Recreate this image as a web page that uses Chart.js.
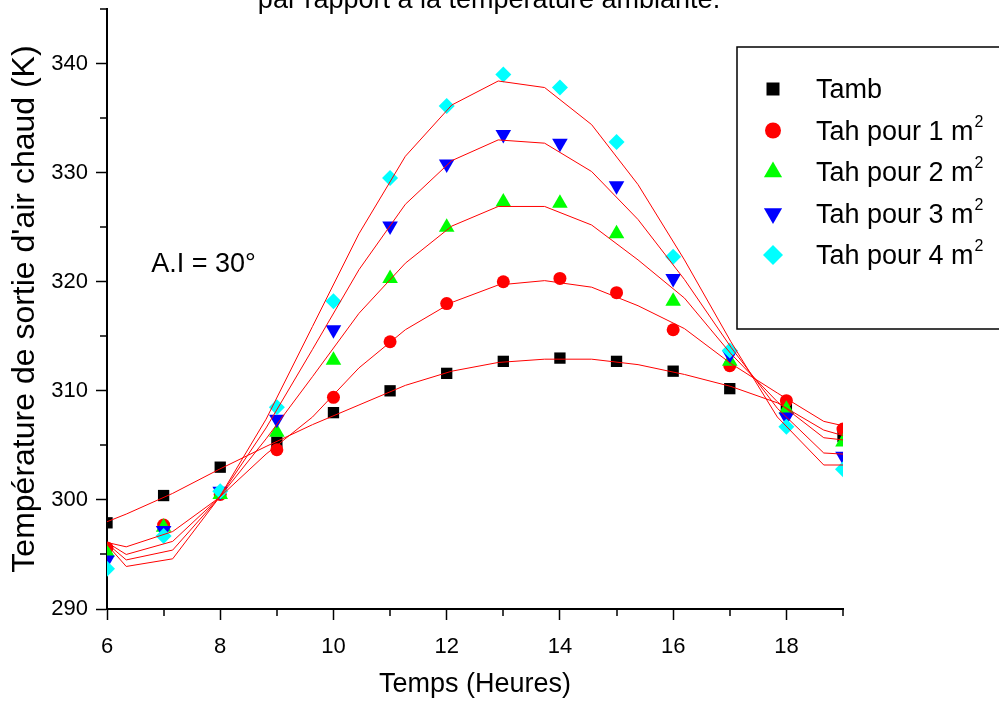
<!DOCTYPE html>
<html>
<head>
<meta charset="utf-8">
<script src="https://cdn.jsdelivr.net/npm/chart.js@4/dist/chart.umd.min.js"></script>
<style>
  html, body { margin: 0; padding: 0; background: #fff; }
  canvas { display: block; }
</style>
</head>
<body>
<canvas id="chart" width="999" height="704"></canvas>
<script>
// Measured outlet temperatures (K), one value per hour
const hours = [6, 7, 8, 9, 10, 11, 12, 13, 14, 15, 16, 17, 18, 19];
const tamb = [297.9, 300.4, 303.0, 305.3, 308.0, 310.0, 311.6, 312.7, 313.0, 312.7, 311.8, 310.2, 308.3, 305.8];
const tah1 = [295.6, 297.7, 300.5, 304.6, 309.4, 314.5, 318.0, 320.0, 320.3, 319.0, 315.6, 312.3, 309.1, 306.5];
const tah2 = [295.2, 297.5, 300.5, 306.2, 312.8, 320.3, 325.0, 327.3, 327.2, 324.4, 318.2, 312.7, 308.3, 305.3];
const tah3 = [294.5, 297.2, 300.8, 307.4, 315.6, 325.1, 330.8, 333.5, 332.7, 328.8, 320.3, 313.3, 307.6, 304.0];
const tah4 = [293.7, 296.7, 300.8, 308.5, 318.2, 329.5, 336.1, 339.0, 337.8, 332.8, 322.3, 313.7, 306.7, 302.8];

// Fitted curves (red), sampled at their own abscissas
const fitHours = [6, 6.34, 7.16, 7.98, 8.81, 9.63, 10.45, 11.27, 12.09, 12.91, 13.73, 14.56, 15.38, 16.2, 17.02, 17.84, 18.66, 19];
const fitTamb = [298.0, 298.7, 300.6, 302.8, 304.9, 306.9, 308.7, 310.5, 311.8, 312.6, 312.9, 312.9, 312.4, 311.5, 310.4, 308.9, 306.4, 305.9];
const fit1 = [296.1, 295.7, 297.1, 300.2, 304.2, 307.6, 312.1, 315.6, 318.1, 319.7, 320.1, 319.5, 317.8, 315.7, 312.5, 309.8, 307.2, 306.8];
const fit2 = [296.1, 295.0, 296.2, 300.2, 305.6, 311.3, 317.1, 321.7, 325.1, 326.9, 326.9, 325.2, 322.0, 318.5, 313.4, 309.0, 305.7, 305.5];
const fit3 = [296.0, 294.5, 295.4, 300.2, 306.6, 313.8, 321.1, 327.1, 331.1, 333.0, 332.7, 330.1, 325.7, 320.2, 314.0, 308.4, 304.3, 304.2];
const fit4 = [295.9, 293.9, 294.6, 300.2, 307.4, 315.9, 324.4, 331.5, 336.2, 338.4, 337.8, 334.4, 328.9, 322.0, 314.5, 307.6, 303.2, 303.2];

// Labels
const seriesNames = ['Tamb', 'Tah pour 1 m²', 'Tah pour 2 m²', 'Tah pour 3 m²', 'Tah pour 4 m²'];
const xTickLabels = [6, 8, 10, 12, 14, 16, 18];
const yTickLabels = [290, 300, 310, 320, 330, 340];
const titleText = 'par rapport à la température ambiante.';
const noteText = 'A.I = 30°';
const xTitle = 'Temps (Heures)';
const yTitle = "Température de sortie d'air chaud (K)";

const FONT = "'Liberation Sans', Arial, Helvetica, sans-serif";
const seriesColors = ['#000000', '#ff0000', '#00ff00', '#0000ff', '#00ffff'];
const seriesStyles = [
  { pointStyle: 'rect', radius: 8, rotation: 0 },
  { pointStyle: 'circle', radius: 6.5, rotation: 0 },
  { pointStyle: 'triangle', radius: 9, rotation: 0 },
  { pointStyle: 'triangle', radius: 9, rotation: 180 },
  { pointStyle: 'rectRot', radius: 8, rotation: 0 }
];
const seriesValues = [tamb, tah1, tah2, tah3, tah4];
const fitValues = [fitTamb, fit1, fit2, fit3, fit4];

const toXY = (xs, ys) => xs.map((x, i) => ({ x: x, y: ys[i] }));

const datasets = [];
fitValues.forEach((ys, i) => {
  datasets.push({
    label: 'fit ' + seriesNames[i],
    data: toXY(fitHours, ys),
    showLine: true,
    borderColor: '#ff0000',
    borderWidth: 1,
    pointRadius: 0,
    tension: 0,
    clip: 0,
    order: 0
  });
});
seriesValues.forEach((ys, i) => {
  datasets.push({
    label: seriesNames[i],
    data: toXY(hours, ys),
    showLine: false,
    pointStyle: seriesStyles[i].pointStyle,
    pointRadius: seriesStyles[i].radius,
    pointRotation: seriesStyles[i].rotation,
    pointBackgroundColor: seriesColors[i],
    pointBorderWidth: 0,
    clip: 0,
    order: 5 - i
  });
});

// Minor ticks, top title, annotation and framed legend
const decorations = {
  id: 'decorations',
  afterDraw(chart) {
    const ctx = chart.ctx;
    const xs = chart.scales.x, ys = chart.scales.y;
    const area = chart.chartArea;
    ctx.save();
    // minor ticks
    ctx.strokeStyle = '#000';
    ctx.lineWidth = 1.5;
    ctx.beginPath();
    for (let h = 7; h <= 19; h += 2) {
      const px = Math.round(xs.getPixelForValue(h));
      ctx.moveTo(px, area.bottom);
      ctx.lineTo(px, area.bottom + 7);
    }
    for (let v = 295; v <= 345; v += 10) {
      const py = Math.round(ys.getPixelForValue(v));
      ctx.moveTo(area.left - 7, py);
      ctx.lineTo(area.left, py);
    }
    ctx.stroke();

    // title line (upper part falls outside the canvas)
    ctx.fillStyle = '#000';
    ctx.font = '27px ' + FONT;
    ctx.textAlign = 'center';
    ctx.textBaseline = 'alphabetic';
    ctx.fillText(titleText, 489, 8);

    // annotation
    ctx.textAlign = 'left';
    ctx.fillText(noteText, xs.getPixelForValue(6.78), ys.getPixelForValue(320.9));

    // legend frame
    ctx.fillStyle = '#fff';
    ctx.fillRect(737, 47, 270, 282);
    ctx.strokeStyle = '#000';
    ctx.lineWidth = 1.5;
    ctx.strokeRect(737, 47, 270, 282);

    const rowY = [89, 130.5, 172, 213.5, 255];
    const mx = 773;
    seriesNames.forEach((name, i) => {
      const y = rowY[i];
      ctx.fillStyle = seriesColors[i];
      ctx.beginPath();
      const st = seriesStyles[i];
      if (st.pointStyle === 'rect') {
        ctx.rect(mx - 6.5, y - 6.5, 13, 13);
      } else if (st.pointStyle === 'circle') {
        ctx.arc(mx, y, 8, 0, Math.PI * 2);
      } else if (st.pointStyle === 'triangle' && st.rotation === 0) {
        const r = 10.5;
        ctx.moveTo(mx, y - r);
        ctx.lineTo(mx + r * 0.866, y + r / 2);
        ctx.lineTo(mx - r * 0.866, y + r / 2);
      } else if (st.pointStyle === 'triangle') {
        const r = 10.5;
        ctx.moveTo(mx, y + r);
        ctx.lineTo(mx + r * 0.866, y - r / 2);
        ctx.lineTo(mx - r * 0.866, y - r / 2);
      } else {
        const r = 10;
        ctx.moveTo(mx, y - r);
        ctx.lineTo(mx + r, y);
        ctx.lineTo(mx, y + r);
        ctx.lineTo(mx - r, y);
      }
      ctx.closePath();
      ctx.fill();

      ctx.fillStyle = '#000';
      ctx.textAlign = 'left';
      ctx.textBaseline = 'alphabetic';
      const sup = name.endsWith('²');
      const base = sup ? name.slice(0, -1) : name;
      ctx.font = '27px ' + FONT;
      ctx.fillText(base, 816, y + 9);
      if (sup) {
        const w = ctx.measureText(base).width;
        ctx.font = '16px ' + FONT;
        ctx.fillText('2', 816 + w + 1, y - 4);
      }
    });
    ctx.restore();
  }
};

new Chart(document.getElementById('chart'), {
  type: 'scatter',
  data: { datasets: datasets },
  options: {
    responsive: false,
    animation: false,
    devicePixelRatio: 1,
    layout: { padding: { left: 0, top: 9, right: 156, bottom: 0 } },
    plugins: {
      legend: { display: false },
      tooltip: { enabled: false },
      title: { display: false }
    },
    scales: {
      x: {
        type: 'linear',
        min: 6,
        max: 19,
        afterFit: s => { s.height = 95; s.paddingLeft = 0; s.paddingRight = 0; },
        border: { display: true, color: '#000', width: 2 },
        grid: {
          drawOnChartArea: false,
          drawTicks: true,
          tickLength: 11,
          tickWidth: 1.5,
          tickColor: c => (c.tick && xTickLabels.includes(c.tick.value)) ? '#000' : 'rgba(0,0,0,0)'
        },
        ticks: {
          stepSize: 1,
          autoSkip: false,
          maxRotation: 0,
          padding: 14,
          color: '#000',
          font: { family: FONT, size: 22 },
          callback: v => xTickLabels.includes(v) ? String(v) : ''
        },
        title: {
          display: true,
          text: xTitle,
          color: '#000',
          font: { family: FONT, size: 27 },
          padding: { top: 0, bottom: 3 }
        }
      },
      y: {
        type: 'linear',
        min: 290,
        max: 345,
        afterFit: s => { s.width = 107; s.paddingTop = 0; s.paddingBottom = 0; },
        border: { display: true, color: '#000', width: 2 },
        grid: {
          drawOnChartArea: false,
          drawTicks: true,
          tickLength: 11,
          tickWidth: 1.5,
          tickColor: c => (c.tick && yTickLabels.includes(c.tick.value)) ? '#000' : 'rgba(0,0,0,0)'
        },
        ticks: {
          stepSize: 5,
          autoSkip: false,
          padding: 8,
          color: '#000',
          font: { family: FONT, size: 22 },
          callback: v => yTickLabels.includes(v) ? String(v) : ''
        },
        title: {
          display: true,
          text: yTitle,
          color: '#000',
          font: { family: FONT, size: 32 },
          padding: { top: 6, bottom: 0 }
        }
      }
    }
  },
  plugins: [decorations]
});
</script>
</body>
</html>
